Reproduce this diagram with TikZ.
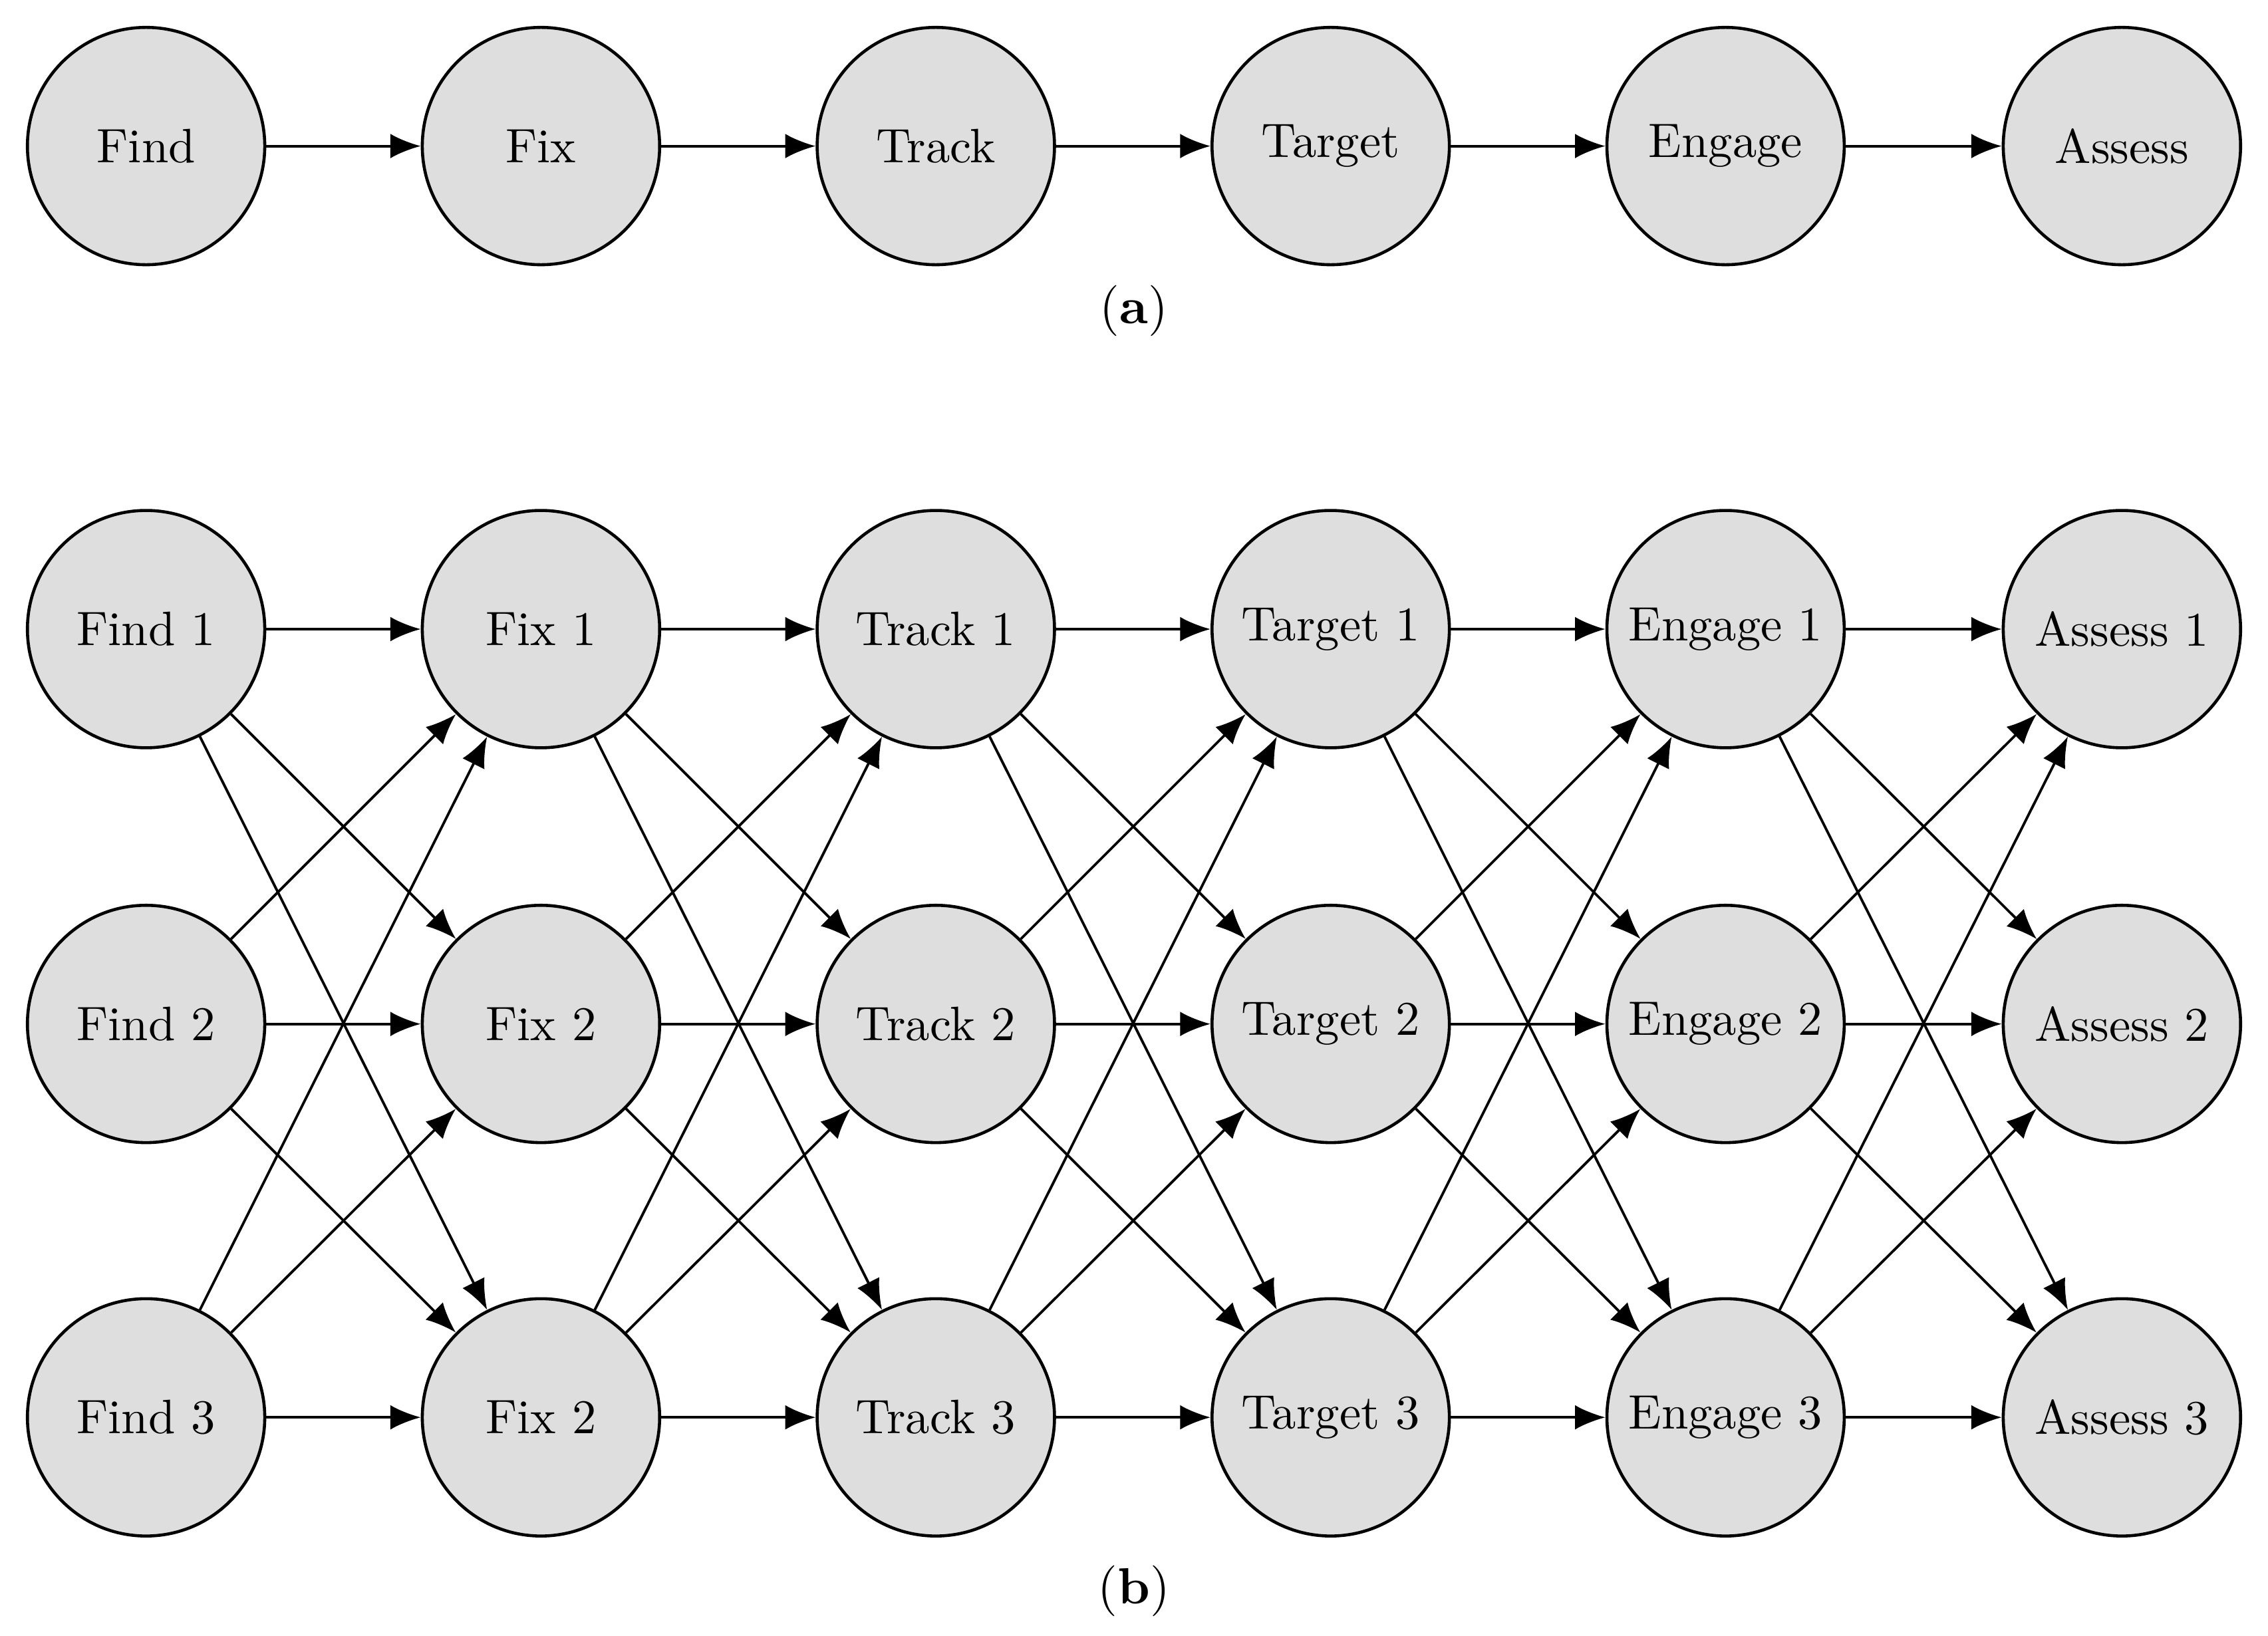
\documentclass[tikz,border=0pt]{standalone}
\usepackage{amsmath}
\usepackage{tikz}
\usetikzlibrary{arrows.meta}
\xdefinecolor{stage}{RGB}{222, 222, 222}
\tikzset{
    stage/.style={circle, draw, fill=stage, line width=0.6pt, minimum size=1.64cm, inner sep=0pt, font=\fontsize{9.5}{11}\selectfont},
    link/.style={-{Latex[length=2.1mm,width=1.7mm]}, line width=0.5pt}
}
\begin{document}
\begin{tikzpicture}[x=0.01cm, y=-0.01cm]
            \useasboundingbox (0, 0) rectangle (1568, 1131);

            % Draw chain (a)
            \def\stages{{"Find", "Fix", "Track", "Target", "Engage", "Assess"}}
            \foreach \x [count=\i] in {101, 374, 647, 920, 1193, 1467} {
                    \node[stage] (a-\i) at (\x, 101) {\pgfmathparse{\stages[\i-1]}\pgfmathresult};
                }
            \foreach \i [evaluate=\i as \n using int(\i+1)] in {1,...,5} {
                    \draw[link] (a-\i) -- (a-\n);
                }
            \node (a-caption) at (784, 215) {(\textbf{a})};

            % Draw grid (b), the last Fix node is printed as Fix 2
            \foreach \x [count=\i] in {101, 374, 647, 920, 1193, 1467} {
                    \foreach \y [count=\j] in {435, 708, 980} {
                            \node[stage] (b-\i-\j) at (\x, \y) {\pgfmathparse{\stages[\i-1]}\pgfmathresult{} \ifnum\i\j=23 2\else\j\fi};
                        }
                }

            % Connect every node to all nodes of the next column
            \foreach \i [evaluate=\i as \n using int(\i+1)] in {1,...,5} {
                    \foreach \j in {1, 2, 3} {
                            \foreach \k in {1, 2, 3} {
                                    \draw[link] (b-\i-\j) -- (b-\n-\k);
                                }
                        }
                }
            \node (b-caption) at (784, 1100) {(\textbf{b})};

        \end{tikzpicture}
\end{document}
